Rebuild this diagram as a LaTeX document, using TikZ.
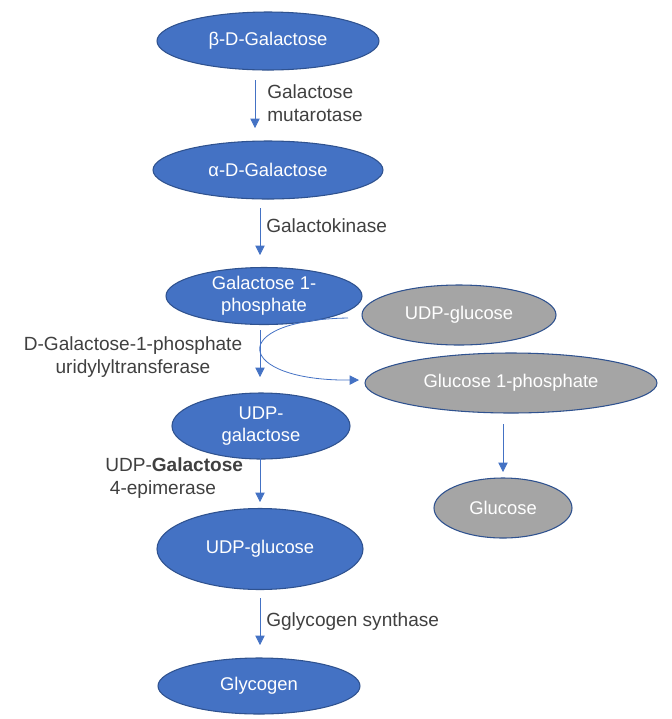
\documentclass[tikz,border=0pt]{standalone}
\usepackage{fontspec}
\setmainfont{Liberation Sans}
\usetikzlibrary{arrows.meta,shapes.geometric}
\definecolor{blu}{HTML}{4472C4}
\definecolor{edge}{HTML}{2F528F}
\definecolor{gry}{HTML}{A5A5A5}
\definecolor{txt}{HTML}{404040}
\tikzset{
  bnode/.style={ellipse,draw=edge,line width=0.8pt,fill=blu,text=white,font=\fontsize{13.8}{16.5}\selectfont,align=center,inner sep=0pt},
  gnode/.style={ellipse,draw=edge,line width=0.8pt,fill=gry,text=white,font=\fontsize{13.8}{16.5}\selectfont,align=center,inner sep=0pt},
  conn/.style={draw=blu,line width=0.6pt,-{Triangle[width=7pt,length=7pt]}},
  lab/.style={text=txt,font=\fontsize{14.3}{17.3}\selectfont,inner sep=0pt}
}
\begin{document}
\begin{tikzpicture}[x=0.75pt,y=-0.75pt]
\useasboundingbox (0,0) rectangle (672,719);
\node[bnode,minimum width=222*0.75pt,minimum height=58*0.75pt] (bg) at (268,41) {β-D-Galactose};
\node[bnode,minimum width=230*0.75pt,minimum height=58*0.75pt] (ag) at (268,170) {α-D-Galactose};
\node[bnode,minimum width=196*0.75pt,minimum height=57*0.75pt] (g1p) at (264,296) {Galactose 1-\\phosphate};
\node[gnode,minimum width=194*0.75pt,minimum height=60*0.75pt] (ug) at (459,315) {UDP-glucose};
\node[gnode,minimum width=292*0.75pt,minimum height=60*0.75pt] (glc1p) at (511,383) {Glucose 1-phosphate};
\node[bnode,minimum width=178*0.75pt,minimum height=66*0.75pt] (ugal) at (261,426) {UDP-\\galactose};
\node[bnode,minimum width=206*0.75pt,minimum height=81*0.75pt] (uglc) at (260,549) {UDP-glucose};
\node[gnode,minimum width=138*0.75pt,minimum height=60*0.75pt] (glc) at (503,508) {Glucose};
\node[bnode,minimum width=202*0.75pt,minimum height=56*0.75pt] (gly) at (259,686) {Glycogen};

\coordinate (a1s) at (255,80); \coordinate (a1e) at (255,128);
\draw[conn] (a1s) -- (a1e);
\coordinate (a2s) at (260,208); \coordinate (a2e) at (260,255);
\draw[conn] (a2s) -- (a2e);
\coordinate (a3s) at (260,330); \coordinate (a3e) at (260,377);
\draw[conn] (a3s) -- (a3e);
\coordinate (a4s) at (260,456); \coordinate (a4e) at (260,502);
\draw[conn] (a4s) -- (a4e);
\coordinate (a5s) at (260,598); \coordinate (a5e) at (260,645);
\draw[conn] (a5s) -- (a5e);
\coordinate (a6s) at (503,424); \coordinate (a6e) at (503,472);
\draw[conn] (a6s) -- (a6e);
\coordinate (cs) at (348,318); \coordinate (ce) at (359,380);
\draw[conn] (cs) .. controls (225,320) and (235,381) .. (ce);

\node[lab,anchor=west,align=left] (l1) at (267,103) {Galactose\\mutarotase};
\node[lab,anchor=west] (l2) at (266,226) {Galactokinase};
\node[lab,align=center] (l3) at (133,357) {D-Galactose-1-phosphate\\uridylyltransferase};
\node[lab,anchor=west,align=left] (l4) at (105,478) {UDP-\textbf{Galactose}\\\hspace{3.5pt}4-epimerase};
\node[lab,anchor=west] (l5) at (266,622) {Gglycogen synthase};
\end{tikzpicture}
\end{document}
